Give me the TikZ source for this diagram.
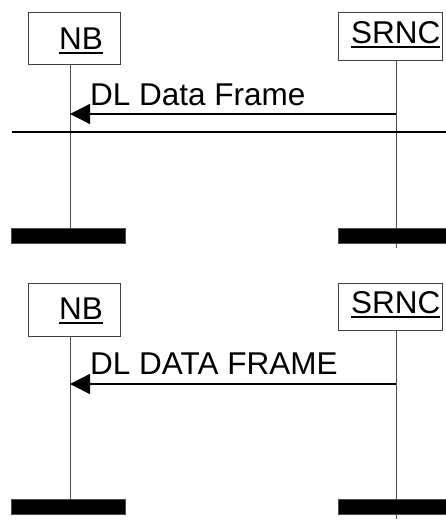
\documentclass[tikz,border=0pt]{standalone}
\usepackage{fontspec}
\setmainfont{Liberation Sans}
\usetikzlibrary{arrows.meta}
\newcommand{\ulx}[1]{\vtop{\hbox{#1}\kern2.5pt\hrule height 2.4pt}}
\begin{document}
\begin{tikzpicture}[x=1pt,y=-1pt,
  ent/.style={draw=black!75,line width=0.9pt,inner sep=0pt,anchor=north west},
  lbl/.style={inner sep=0pt,anchor=base west,font=\fontsize{31.5}{37}\selectfont},
  life/.style={draw=black!70,line width=1pt},
  barbox/.style={fill=black,draw=black!70,line width=0.6pt,inner sep=0pt,anchor=north west,minimum height=15pt},
  msg/.style={line width=1.4pt,-{Triangle[length=20pt,width=20pt]}}]
\useasboundingbox (0,0) rectangle (446,525);
% ---------- top diagram ----------
\node[ent,minimum width=92pt,minimum height=52pt] (nb1) at (28,12) {};
\node[ent,minimum width=104pt,minimum height=48pt] (sr1) at (338,12) {};
\node[lbl] (nb1t) at (59,49) {\ulx{NB}};
\node[lbl] (sr1t) at (351,43) {\ulx{SRNC}};
\coordinate (nbl1a) at (70,64);
\coordinate (nbl1b) at (70,228);
\coordinate (srl1a) at (396,60);
\coordinate (srl1b) at (396,248);
\draw[life] (nbl1a) -- (nbl1b);
\draw[life] (srl1a) -- (srl1b);
\node[barbox,minimum width=114pt] (nbbar1) at (11,228) {};
\node[barbox,minimum width=110pt] (srbar1) at (338,228) {};
\coordinate (m1s) at (396,114);
\coordinate (m1e) at (70,114);
\draw[msg] (m1s) -- (m1e);
\node[lbl] (m1t) at (90,105) {DL Data Frame};
\coordinate (hl1) at (12,132);
\coordinate (hl2) at (446,132);
\draw[line width=2pt] (hl1) -- (hl2);
% ---------- bottom diagram ----------
\node[ent,minimum width=92pt,minimum height=53pt] (nb2) at (28,283) {};
\node[ent,minimum width=104pt,minimum height=47pt] (sr2) at (338,283) {};
\node[lbl] (nb2t) at (59,319) {\ulx{NB}};
\node[lbl] (sr2t) at (351,313) {\ulx{SRNC}};
\coordinate (nbl2a) at (70,336);
\coordinate (nbl2b) at (70,499);
\coordinate (srl2a) at (396,330);
\coordinate (srl2b) at (396,519);
\draw[life] (nbl2a) -- (nbl2b);
\draw[life] (srl2a) -- (srl2b);
\node[barbox,minimum width=114pt] (nbbar2) at (11,499) {};
\node[barbox,minimum width=110pt] (srbar2) at (338,499) {};
\coordinate (m2s) at (396,384);
\coordinate (m2e) at (70,384);
\draw[msg] (m2s) -- (m2e);
\node[lbl] (m2t) at (90,374) {DL DATA FRAME};
\end{tikzpicture}
\end{document}
